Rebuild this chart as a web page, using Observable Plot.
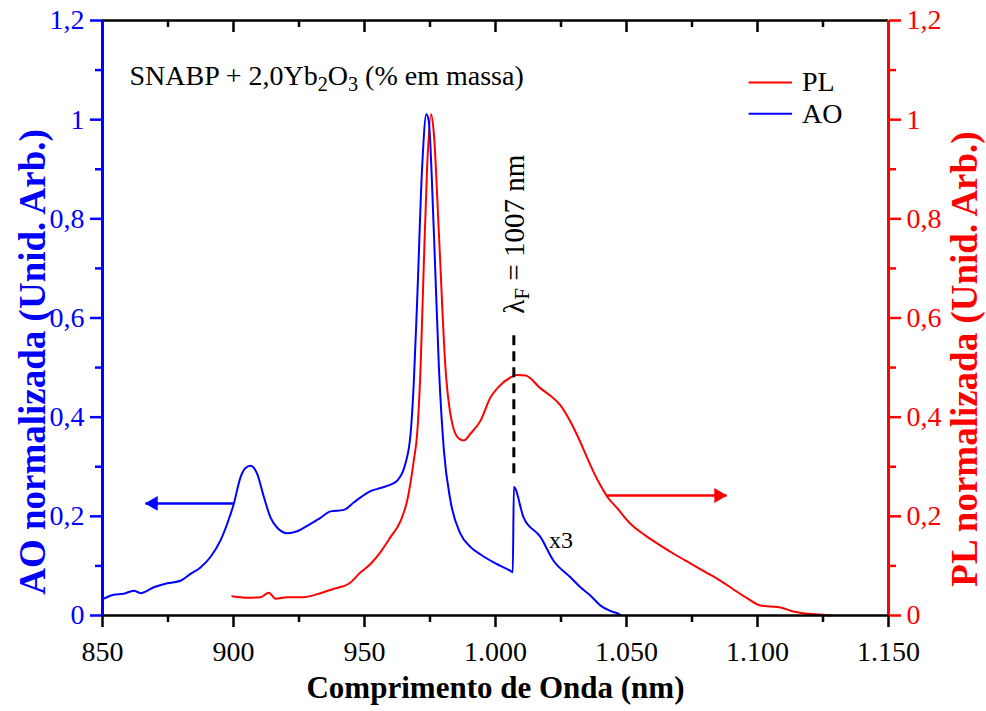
<!DOCTYPE html>
<html>
<head>
<meta charset="utf-8">
<script src="https://cdn.jsdelivr.net/npm/d3@7"></script>
<script src="https://cdn.jsdelivr.net/npm/@observablehq/plot@0.6"></script>
<style>
  html, body { margin: 0; padding: 0; background: white; }
  #chart { width: 986px; height: 711px; }
  #chart svg, #chart svg text, #chart svg tspan { font-family: "Liberation Serif", "Times New Roman", serif !important; }
</style>
</head>
<body>
<div id="chart"></div>
<script>
// ---- Data ----
const aoWavelength = [850.5, 854.3, 858.1, 862, 864.5, 869.6, 874.7, 879.8, 883.6, 887.4, 891.2, 895, 897.6, 900.1, 902.7, 904.5, 906.5, 909, 911.6, 914.1, 916.7, 920.5, 924.3, 929.4, 933.2, 937, 942.1, 945.9, 952.3, 956.1, 959.9, 962.5, 965.6, 967.6, 968.8, 970.1, 972.0, 973.6, 974.5, 976.5, 978.4, 980.3, 982.8, 986.6, 990.5, 994.3, 1000, 1005.7, 1006.6, 1007, 1010.7, 1017.2, 1022.1, 1028.6, 1032.4, 1036.3, 1040.1, 1043.5, 1046.6, 1048];
const aoValue = [0.034, 0.042, 0.044, 0.05, 0.045, 0.057, 0.065, 0.07, 0.084, 0.097, 0.118, 0.151, 0.185, 0.225, 0.279, 0.297, 0.302, 0.286, 0.239, 0.198, 0.177, 0.166, 0.17, 0.185, 0.197, 0.21, 0.213, 0.228, 0.251, 0.257, 0.264, 0.272, 0.306, 0.367, 0.468, 0.635, 0.904, 1.011, 0.998, 0.77, 0.5, 0.333, 0.232, 0.165, 0.138, 0.123, 0.105, 0.09, 0.087, 0.259, 0.198, 0.158, 0.111, 0.077, 0.057, 0.04, 0.02, 0.01, 0.004, 0.0];

const plWavelength = [899.5, 905.2, 910.3, 913.5, 916, 920.5, 926.8, 933.2, 938.3, 944, 948.5, 952.3, 956.1, 959.9, 963.7, 966.3, 968.8, 970.1, 971.4, 972.6, 973.9, 975.4, 976.5, 978.4, 980.9, 983.5, 986, 987.9, 990.5, 994.3, 998.1, 1001, 1005.7, 1008, 1011.5, 1017.2, 1021, 1024.8, 1028, 1031.5, 1035, 1038, 1040.1, 1042.6, 1046.5, 1051.5, 1057, 1063, 1068.5, 1074.4, 1080, 1085.9, 1091, 1096, 1101.1, 1105, 1108.8, 1113.7, 1118, 1124, 1128];
const plValue = [0.039, 0.036, 0.037, 0.046, 0.034, 0.037, 0.037, 0.045, 0.054, 0.064, 0.087, 0.104, 0.128, 0.158, 0.19, 0.232, 0.312, 0.367, 0.5, 0.702, 0.904, 1.011, 0.97, 0.77, 0.5, 0.387, 0.357, 0.353, 0.367, 0.393, 0.44, 0.46, 0.48, 0.485, 0.484, 0.458, 0.443, 0.424, 0.397, 0.36, 0.318, 0.283, 0.262, 0.24, 0.216, 0.185, 0.162, 0.141, 0.123, 0.105, 0.088, 0.07, 0.052, 0.035, 0.02, 0.018, 0.016, 0.008, 0.004, 0.002, 0.0];

const xMajorTicks = [850, 900, 950, 1000, 1050, 1100, 1150];
const xMinorTicks = [875, 925, 975, 1025, 1075, 1125];
const yMajorTicks = [0, 0.2, 0.4, 0.6, 0.8, 1.0, 1.2];
const yMinorTicks = [0.1, 0.3, 0.5, 0.7, 0.9, 1.1];

const seriesNames = ["PL", "AO"];
const seriesColors = ["#ff0000", "#0000ff"];

// arrows pointing to each curve's axis
const arrowAO = [{x1: 900, x2: 866.4, y: 0.226}];
const arrowPL = [{x1: 1042.6, x2: 1088.2, y: 0.242}];
// fluorescence wavelength marker
const lambdaF = [{x: 1007, y1: 0.286, y2: 0.571}];
// annotation anchors (data units)
const sampleLabel = [{x: 860.3, y: 1.087, text: "SNABP + 2,0Yb2O3 (% em massa)"}];
const lambdaLabel = [{x: 1007.3, y: 0.769, text: "λF = 1007 nm"}];
const scaleLabel = [{x: 1025, y: 0.151, text: "x3"}];
const legendItems = [
  {name: "PL", x1: 1096.6, x2: 1113.2, xt: 1117, y: 1.075},
  {name: "AO", x1: 1096.6, x2: 1113.2, xt: 1117, y: 1.012}
];

const aoData = aoWavelength.map((w, i) => ({w, v: aoValue[i]}));
const plData = plWavelength.map((w, i) => ({w, v: plValue[i]}));

const fmtX = d => d >= 1000 ? `${Math.floor(d / 1000)}.${String(d % 1000).padStart(3, "0")}` : String(d);
const fmtY = d => String(+d.toFixed(1)).replace(".", ",");

const FONT = "Liberation Serif, Times New Roman, serif";
const plotH = 711 - 20 - 96;
const BLUE = seriesColors[1], RED = seriesColors[0];

const chart = Plot.plot({
  width: 986,
  height: 711,
  marginLeft: 102,
  marginRight: 98,
  marginTop: 20,
  marginBottom: 96,
  style: {fontFamily: FONT, background: "white", overflow: "visible"},
  x: {domain: [850, 1150], axis: null},
  y: {domain: [0, 1.2], axis: null},
  marks: [
    // curves
    Plot.line(plData, {x: "w", y: "v", stroke: RED, strokeWidth: 2, curve: "monotone-x"}),
    Plot.line(aoData, {x: "w", y: "v", stroke: BLUE, strokeWidth: 2, curve: "monotone-x"}),

    // dashed lambda marker
    Plot.ruleX(lambdaF, {x: "x", y1: "y1", y2: "y2", stroke: "black", strokeWidth: 3, strokeDasharray: "10,6"}),

    // arrows
    Plot.link(arrowAO, {x1: "x1", x2: "x2", y1: "y", y2: "y", stroke: BLUE, strokeWidth: 2.5}),
    Plot.dot(arrowAO, {x: "x2", y: "y", symbol: "triangle", r: 5.5, fill: BLUE, stroke: "none", rotate: -90, dx: 8}),
    Plot.link(arrowPL, {x1: "x1", x2: "x2", y1: "y", y2: "y", stroke: RED, strokeWidth: 2.5}),
    Plot.dot(arrowPL, {x: "x2", y: "y", symbol: "triangle", r: 5.5, fill: RED, stroke: "none", rotate: 90, dx: -8}),

    // annotations
    Plot.text(sampleLabel, {x: "x", y: "y", text: "text", textAnchor: "start", lineAnchor: "middle", fontSize: 28, fill: "black", fontFamily: FONT}),
    Plot.text(lambdaLabel, {x: "x", y: "y", text: "text", textAnchor: "middle", lineAnchor: "middle", rotate: -90, fontSize: 29, fill: "black", fontFamily: FONT}),
    Plot.text(scaleLabel, {x: "x", y: "y", text: "text", textAnchor: "middle", lineAnchor: "middle", fontSize: 24, fill: "black", fontFamily: FONT}),

    // legend
    Plot.link(legendItems, {x1: "x1", x2: "x2", y1: "y", y2: "y", stroke: d => d.name === "PL" ? RED : BLUE, strokeWidth: 2}),
    Plot.text(legendItems, {x: "xt", y: "y", text: "name", textAnchor: "start", lineAnchor: "middle", fontSize: 28, fill: "black", fontFamily: FONT}),

    // frame lines
    Plot.ruleY([0], {stroke: "black", strokeWidth: 2.5}),
    Plot.ruleY([1.2], {stroke: "black", strokeWidth: 2.5}),

    // bottom axis
    Plot.axisX(xMajorTicks, {anchor: "bottom", tickSize: 12, tickPadding: 14, tickFormat: fmtX, fontSize: 28, color: "black", strokeWidth: 2.5, label: null, fontFamily: FONT}),
    Plot.axisX(xMinorTicks, {anchor: "bottom", tickSize: 7, tickFormat: () => "", color: "black", strokeWidth: 2.5, label: null}),
    // top axis (inward ticks)
    Plot.tickX(xMajorTicks, {x: d => d, insetBottom: plotH - 12, stroke: "black", strokeWidth: 2.5}),
    Plot.tickX(xMinorTicks, {x: d => d, insetBottom: plotH - 7, stroke: "black", strokeWidth: 2.5}),

    // left axis (AO, blue)
    Plot.axisY(yMajorTicks, {anchor: "left", tickSize: 12, tickPadding: 6, tickFormat: fmtY, fontSize: 28, color: BLUE, strokeWidth: 2.5, label: null, fontFamily: FONT}),
    Plot.axisY(yMinorTicks, {anchor: "left", tickSize: 7, tickFormat: () => "", color: BLUE, strokeWidth: 2.5, label: null}),
    Plot.ruleX([850], {stroke: BLUE, strokeWidth: 3}),

    // right axis (PL, red)
    Plot.axisY(yMajorTicks, {anchor: "right", tickSize: 12, tickPadding: 6, tickFormat: fmtY, fontSize: 28, color: RED, strokeWidth: 2.5, label: null, fontFamily: FONT}),
    Plot.axisY(yMinorTicks, {anchor: "right", tickSize: 7, tickFormat: () => "", color: RED, strokeWidth: 2.5, label: null}),
    Plot.ruleX([1150], {stroke: RED, strokeWidth: 3}),

    // axis titles
    Plot.text(["Comprimento de Onda (nm)"], {frameAnchor: "bottom", dy: 73, textAnchor: "middle", lineAnchor: "middle", fontSize: 31, fontWeight: "bold", fill: "black", fontFamily: FONT}),
    Plot.text(["AO normalizada (Unid. Arb.)"], {frameAnchor: "left", dx: -69, dy: 44, rotate: -90, textAnchor: "middle", lineAnchor: "middle", fontSize: 37, fontWeight: "bold", fill: BLUE, fontFamily: FONT}),
    Plot.text(["PL normalizada (Unid. Arb.)"], {frameAnchor: "right", dx: 77, dy: 41, rotate: -90, textAnchor: "middle", lineAnchor: "middle", fontSize: 37, fontWeight: "bold", fill: RED, fontFamily: FONT})
  ]
});

document.getElementById("chart").appendChild(chart);

// subscripts via tspans
function setRich(textEl, parts) {
  while (textEl.firstChild) textEl.removeChild(textEl.firstChild);
  const ns = "http://www.w3.org/2000/svg";
  let shifted = false;
  for (const [s, sub] of parts) {
    const t = document.createElementNS(ns, "tspan");
    t.textContent = s;
    if (sub && !shifted) { t.setAttribute("dy", "0.25em"); t.setAttribute("font-size", "0.72em"); shifted = true; }
    else if (sub && shifted) { t.setAttribute("font-size", "0.72em"); }
    else if (!sub && shifted) { t.setAttribute("dy", "-0.18em"); shifted = false; }
    textEl.appendChild(t);
  }
}
chart.querySelectorAll("text").forEach(el => {
  if (el.textContent === sampleLabel[0].text) {
    setRich(el, [["SNABP + 2,0Yb", false], ["2", true], ["O", false], ["3", true], [" (% em massa)", false]]);
  } else if (el.textContent === lambdaLabel[0].text) {
    setRich(el, [["λ", false], ["F", true], [" = 1007 nm", false]]);
  }
});
</script>
</body>
</html>
